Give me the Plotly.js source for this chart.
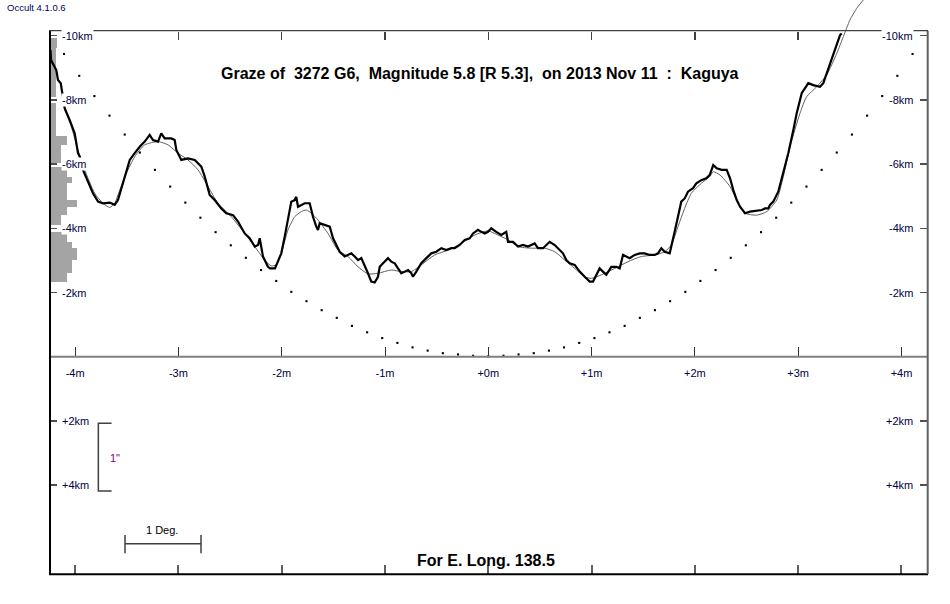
<!DOCTYPE html>
<html><head><meta charset="utf-8">
<script src="https://cdn.plot.ly/plotly-3.0.1.min.js"></script>
<style>html,body{margin:0;padding:0;background:#fff;} #chart{width:950px;height:604px;}</style>
</head><body><div id="chart"></div>
<script>
// Observed limb profile (minutes of time, km)
const profileX = [-4.238,-4.233,-4.182,-4.166,-4.139,-4.127,-4.101,-4.052,-4.004,-3.972,-3.955,-3.924,-3.875,-3.827,-3.778,-3.730,-3.665,-3.617,-3.585,-3.536,-3.504,-3.471,-3.423,-3.375,-3.326,-3.278,-3.246,-3.197,-3.166,-3.133,-3.069,-3.036,-3.020,-2.972,-2.907,-2.842,-2.778,-2.745,-2.697,-2.649,-2.585,-2.536,-2.471,-2.423,-2.358,-2.310,-2.261,-2.229,-2.213,-2.181,-2.133,-2.113,-2.065,-2.036,-2.004,-1.971,-1.939,-1.907,-1.874,-1.859,-1.842,-1.810,-1.777,-1.729,-1.697,-1.665,-1.649,-1.632,-1.584,-1.535,-1.503,-1.471,-1.439,-1.390,-1.358,-1.326,-1.293,-1.261,-1.229,-1.197,-1.165,-1.133,-1.100,-1.068,-1.051,-1.019,-0.971,-0.939,-0.906,-0.874,-0.842,-0.809,-0.777,-0.745,-0.729,-0.697,-0.649,-0.600,-0.552,-0.503,-0.455,-0.407,-0.358,-0.325,-0.277,-0.228,-0.180,-0.148,-0.100,-0.068,-0.035,-0.003,0.029,0.077,0.126,0.174,0.191,0.239,0.288,0.336,0.384,0.449,0.481,0.530,0.578,0.594,0.643,0.675,0.723,0.755,0.788,0.836,0.885,0.933,0.982,1.014,1.045,1.078,1.110,1.142,1.191,1.239,1.272,1.304,1.336,1.369,1.417,1.466,1.514,1.562,1.611,1.643,1.675,1.708,1.756,1.772,1.804,1.836,1.868,1.901,1.933,1.982,2.014,2.062,2.110,2.143,2.178,2.211,2.259,2.308,2.340,2.372,2.405,2.437,2.485,2.533,2.598,2.647,2.679,2.711,2.727,2.759,2.807,2.856,2.904,2.953,2.985,3.034,3.066,3.098,3.146,3.211,3.243,3.291,3.340,3.373,3.405,3.421];
const profileY = [-9.55,-9.24,-8.93,-8.62,-8.52,-8.26,-7.74,-7.37,-6.96,-6.34,-6.23,-5.82,-5.45,-5.09,-4.83,-4.78,-4.80,-4.73,-4.88,-5.40,-5.82,-6.13,-6.34,-6.54,-6.70,-6.91,-6.75,-6.70,-6.96,-6.80,-6.80,-6.75,-6.44,-6.13,-6.18,-6.13,-5.92,-5.61,-5.04,-4.88,-4.62,-4.47,-4.41,-4.21,-3.84,-3.69,-3.43,-3.48,-3.69,-3.12,-2.80,-2.75,-2.75,-2.96,-3.22,-3.74,-4.26,-4.83,-4.88,-4.98,-4.67,-4.73,-4.78,-4.78,-4.36,-4.05,-3.95,-4.16,-4.10,-4.05,-3.69,-3.48,-3.27,-3.12,-3.17,-3.22,-3.12,-3.01,-3.07,-2.86,-2.60,-2.34,-2.31,-2.49,-2.80,-2.91,-3.07,-2.96,-2.91,-2.75,-2.60,-2.65,-2.70,-2.60,-2.49,-2.65,-2.91,-3.07,-3.22,-3.27,-3.38,-3.32,-3.38,-3.38,-3.48,-3.64,-3.69,-3.84,-3.95,-3.89,-3.84,-3.89,-4.00,-3.89,-3.79,-3.89,-3.58,-3.58,-3.43,-3.48,-3.43,-3.53,-3.38,-3.38,-3.53,-3.58,-3.48,-3.38,-3.22,-3.01,-2.91,-2.86,-2.65,-2.49,-2.34,-2.34,-2.55,-2.75,-2.65,-2.55,-2.80,-2.80,-2.75,-3.17,-3.12,-3.07,-3.17,-3.22,-3.22,-3.17,-3.17,-3.22,-3.38,-3.27,-3.22,-3.48,-3.89,-4.36,-4.83,-4.93,-5.14,-5.25,-5.40,-5.50,-5.56,-5.66,-5.97,-5.87,-5.82,-5.82,-5.56,-5.19,-4.88,-4.67,-4.47,-4.52,-4.55,-4.57,-4.62,-4.62,-4.73,-4.83,-5.14,-5.71,-6.34,-7.06,-7.58,-8.21,-8.36,-8.52,-8.46,-8.41,-8.52,-8.98,-9.40,-9.71,-10.02,-10.07];

// Smoothed profile
const fitX = [-4.101,-4.037,-3.972,-3.907,-3.810,-3.730,-3.665,-3.617,-3.568,-3.504,-3.423,-3.326,-3.197,-3.101,-3.004,-2.907,-2.810,-2.713,-2.617,-2.488,-2.358,-2.261,-2.165,-2.101,-2.055,-2.004,-1.939,-1.874,-1.810,-1.762,-1.713,-1.649,-1.552,-1.455,-1.358,-1.261,-1.165,-1.068,-0.939,-0.842,-0.745,-0.649,-0.519,-0.390,-0.261,-0.132,-0.003,0.094,0.191,0.288,0.416,0.546,0.643,0.740,0.836,0.933,0.997,1.094,1.224,1.352,1.481,1.611,1.708,1.772,1.836,1.901,1.965,2.062,2.143,2.178,2.243,2.340,2.405,2.485,2.598,2.695,2.792,2.856,2.921,3.017,3.082,3.179,3.276,3.373,3.437,3.501,3.566,3.630,3.676];
const fitY = [-7.69,-7.17,-6.44,-5.82,-5.09,-4.78,-4.65,-4.78,-5.19,-5.71,-6.23,-6.60,-6.70,-6.60,-6.34,-6.13,-5.82,-5.30,-4.78,-4.36,-3.84,-3.43,-3.01,-2.83,-2.86,-3.22,-3.95,-4.36,-4.52,-4.57,-4.47,-4.26,-3.84,-3.32,-3.12,-2.80,-2.58,-2.60,-2.70,-2.65,-2.65,-2.86,-3.17,-3.32,-3.53,-3.79,-3.92,-3.79,-3.64,-3.43,-3.38,-3.38,-3.27,-3.01,-2.75,-2.49,-2.44,-2.55,-2.75,-2.96,-3.12,-3.17,-3.27,-3.48,-4.05,-4.62,-5.09,-5.40,-5.61,-5.76,-5.66,-5.30,-4.88,-4.47,-4.41,-4.52,-4.88,-5.61,-6.54,-7.58,-8.10,-8.41,-8.78,-9.45,-9.97,-10.49,-10.85,-11.11,-11.27];

// Mean limb (dotted)
const limbX = [-4.107,-3.960,-3.813,-3.667,-3.520,-3.373,-3.227,-3.080,-2.933,-2.787,-2.640,-2.493,-2.347,-2.200,-2.053,-1.907,-1.760,-1.613,-1.467,-1.320,-1.173,-1.027,-0.880,-0.733,-0.587,-0.440,-0.293,-0.147,0,0.147,0.293,0.440,0.587,0.733,0.880,1.027,1.173,1.320,1.467,1.613,1.760,1.907,2.053,2.200,2.347,2.493,2.640,2.787,2.933,3.080,3.227,3.373,3.520,3.667,3.813,3.960,4.107];
const limbY = [-9.43,-8.75,-8.12,-7.51,-6.92,-6.36,-5.82,-5.30,-4.80,-4.33,-3.88,-3.47,-3.08,-2.70,-2.36,-2.02,-1.73,-1.45,-1.21,-0.96,-0.76,-0.58,-0.43,-0.29,-0.19,-0.11,-0.07,-0.03,-0.01,-0.03,-0.07,-0.11,-0.19,-0.29,-0.43,-0.58,-0.76,-0.96,-1.21,-1.45,-1.73,-2.02,-2.36,-2.70,-3.08,-3.47,-3.88,-4.33,-4.80,-5.30,-5.82,-6.36,-6.92,-7.51,-8.12,-8.75,-9.43];

// Histogram of heights (bin edges in km, relative counts)
const histLo  = [-9.92,-9.61,-7.91,-6.88,-6.59,-5.92,-5.61,-5.40,-4.88,-4.67,-4.41,-3.89,-3.58,-3.38,-3.01,-2.60];
const histHi  = [-9.61,-8.10,-6.88,-6.59,-6.03,-5.61,-5.40,-4.88,-4.67,-4.41,-4.10,-3.58,-3.38,-3.01,-2.60,-2.34];
const histLen = [1.3,1.1,1.1,3.2,2.2,3.2,4.2,3.2,5.2,3.2,2.2,3.2,4.2,5.2,4.2,3.2];

const xTickVals = [-4,-3,-2,-1,0,1,2,3,4];
const xTickText = ['-4m','-3m','-2m','-1m','+0m','+1m','+2m','+3m','+4m'];
const topTickVals = [-3,-2,-1,0,1,2,3];
const yTickVals = [-10,-8,-6,-4,-2,2,4];
const yTickText = ['-10km','-8km','-6km','-4km','-2km','+2km','+4km'];

const titleText = 'Graze of\u00a0 3272 G6,\u00a0 Magnitude 5.8 [R 5.3],\u00a0 on 2013 Nov 11\u00a0 :\u00a0 Kaguya';
const footText = 'For E. Long. 138.5';
const versionText = 'Occult 4.1.0.6';

const FONT = 'Arial, "Liberation Sans", sans-serif';
const labelColor = '#000040';

const histC = histLo.map((lo,i)=>(lo+histHi[i])/2);
const histW = histLo.map((lo,i)=>histHi[i]-lo);

const traces = [
  {type:'bar', orientation:'h', x:histLen, y:histC, width:histW, xaxis:'x2', yaxis:'y',
   marker:{color:'#a4a4a4', line:{width:0}}, hoverinfo:'skip'},
  {type:'scatter', mode:'lines', x:fitX, y:fitY, xaxis:'x3', yaxis:'y2',
   line:{color:'#606060', width:1, shape:'spline', smoothing:0.6}, hoverinfo:'skip'},
  {type:'scatter', mode:'lines', x:profileX, y:profileY, xaxis:'x4', yaxis:'y',
   line:{color:'#000', width:2.2}, hoverinfo:'skip'},
  {type:'scatter', mode:'markers', x:limbX, y:limbY, xaxis:'x5', yaxis:'y',
   marker:{color:'#000', size:2.1, symbol:'square'}, hoverinfo:'skip'}
];

const XR = [-4.2527, 4.2566];
const YR = [6.7695, -11.1121];
const topPaper = 0.94652;
const centerPaper = 0.37857;
const yAxisCommon = {tickvals:yTickVals, ticks:'inside', ticklen:8, tickwidth:1.5,
  tickcolor:'#505050', showticklabels:false, showline:false, showgrid:false, zeroline:false, fixedrange:true};
const xHidden = {showline:false, showgrid:false, zeroline:false, fixedrange:true};

// y tick labels drawn as text next to the inside ticks (white boxes as in the original)
const yLabelAnn = [];
yTickVals.forEach((v,i)=>{
  yLabelAnn.push({xref:'paper', yref:'y', x:0.0137, y:v, text:yTickText[i], showarrow:false,
    xanchor:'left', yanchor:'middle', bgcolor:'#fff', borderpad:0,
    font:{family:FONT, size:11, color:labelColor}});
  yLabelAnn.push({xref:'paper', yref:'y', x:0.9841, y:v, text:yTickText[i], showarrow:false,
    xanchor:'right', yanchor:'middle', bgcolor:'#fff', borderpad:0,
    font:{family:FONT, size:11, color:labelColor}});
});

const layout = {
  width:950, height:604,
  margin:{l:49, r:22, t:0, b:30, pad:0},
  paper_bgcolor:'#fff', plot_bgcolor:'#fff',
  showlegend:false, bargap:0,
  font:{family:FONT, size:11, color:labelColor},
  xaxis:Object.assign({range:XR, side:'bottom', anchor:'free', position:centerPaper, tickvals:xTickVals, ticktext:xTickText,
    ticks:'', ticklabelstandoff:8,
    tickfont:{size:11, color:labelColor, family:FONT}}, xHidden),
  xaxis2:Object.assign({overlaying:'x', range:[-0.2,168.84], visible:false}, xHidden),
  xaxis3:Object.assign({matches:'x', overlaying:'x', side:'bottom', anchor:'free', position:0, tickvals:xTickVals,
    ticks:'inside', ticklen:9, tickwidth:2, tickcolor:'#606060', showticklabels:false}, xHidden),
  xaxis4:Object.assign({matches:'x', overlaying:'x', side:'top', anchor:'free', position:topPaper,
    tickvals:topTickVals, ticks:'inside', ticklen:8, tickwidth:1.5, tickcolor:'#404040', showticklabels:false}, xHidden),
  xaxis5:Object.assign({matches:'x', overlaying:'x', side:'bottom', anchor:'free', position:centerPaper,
    tickvals:xTickVals, ticks:'inside', ticklen:10, tickwidth:1, tickcolor:'#303030', showticklabels:false}, xHidden),
  yaxis:Object.assign({range:YR, side:'left'}, yAxisCommon),
  yaxis2:Object.assign({matches:'y', overlaying:'y', side:'right', anchor:'x'}, yAxisCommon),
  shapes:[
    {type:'line', xref:'paper', yref:'y', x0:0, x1:1, y0:0, y1:0, line:{color:'#808080', width:2}, layer:'above'},
    {type:'line', xref:'paper', yref:'paper', x0:0.00114, x1:0.00114, y0:0, y1:topPaper, line:{color:'#000', width:2}, layer:'above'},
    {type:'line', xref:'paper', yref:'paper', x0:0, x1:1, y0:-0.0005, y1:-0.0005, line:{color:'#000', width:2}, layer:'above'},
    {type:'line', xref:'paper', yref:'paper', x0:0.99966, x1:0.99966, y0:0, y1:topPaper, line:{color:'#606060', width:2}, layer:'above'},
    {type:'line', xref:'paper', yref:'paper', x0:0, x1:1, y0:topPaper, y1:topPaper, line:{color:'#404040', width:1.3}, layer:'above'},
    {type:'path', xref:'x', yref:'y', path:'M -3.647,2.075 L -3.775,2.075 L -3.775,4.184 L -3.647,4.184', line:{color:'#404040', width:1.5}},
    {type:'path', xref:'x', yref:'y', path:'M -3.517,5.555 L -3.517,6.125 M -3.517,5.826 L -2.781,5.826 M -2.781,5.555 L -2.781,6.125', line:{color:'#404040', width:1.5}}
  ],
  annotations:[
    {xref:'paper', yref:'y', x:0.4898, y:-8.81, text:'<b>'+titleText+'</b>', showarrow:false,
     font:{family:FONT, size:16, color:'#000'}, xanchor:'center', yanchor:'middle'},
    {xref:'paper', yref:'y', x:0.4966, y:6.36, text:'<b>'+footText+'</b>', showarrow:false,
     font:{family:FONT, size:16, color:'#000'}, xanchor:'center', yanchor:'middle'},
    {xref:'paper', yref:'paper', x:-0.0506, y:0.9861, text:versionText, showarrow:false,
     font:{family:FONT, size:9.5, color:'#000060'}, xanchor:'left', yanchor:'middle'},
    {xref:'x', yref:'y', x:-3.154, y:5.41, text:'1 Deg.', showarrow:false,
     font:{family:FONT, size:11, color:'#000'}, xanchor:'center', yanchor:'middle'},
    {xref:'x', yref:'y', x:-3.68, y:3.165, text:'1"', showarrow:false,
     font:{family:FONT, size:11, color:'#800080'}, xanchor:'left', yanchor:'middle'}
  ].concat(yLabelAnn)
};

Plotly.newPlot('chart', traces, layout, {staticPlot:true, displayModeBar:false});
</script>
</body></html>
